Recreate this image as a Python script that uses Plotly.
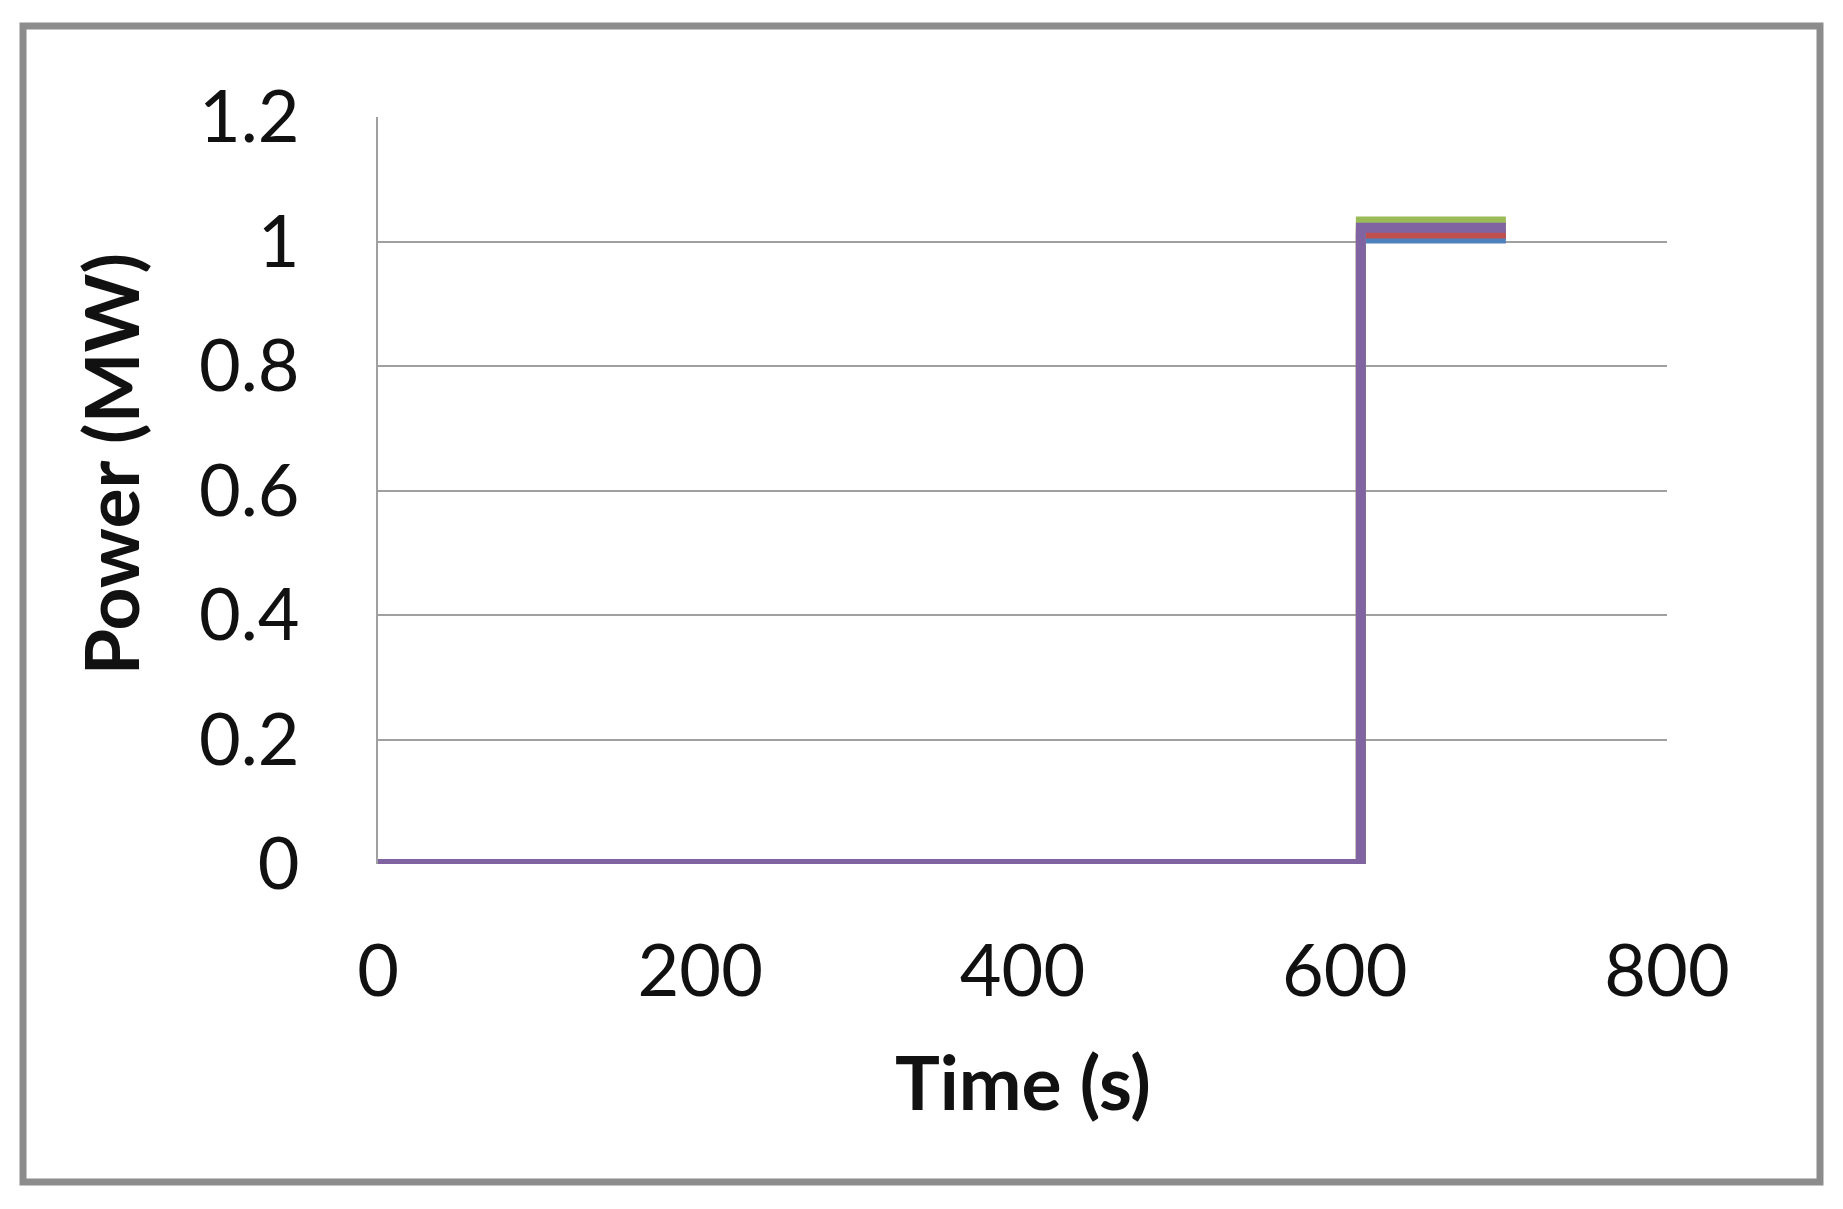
import plotly.graph_objects as go

time_s = [0, 610, 610, 700]
series_names = ["Series 1", "Series 2", "Series 3", "Series 4"]
blue_vals = [0, 0, 1.005, 1.005]
red_vals = [0, 0, 1.013, 1.013]
green_vals = [0, 0, 1.032, 1.032]
purple_vals = [0, 0, 1.022, 1.022]
colors = ["#4F81BD", "#C0504D", "#9BBB59", "#8064A2"]
x_ticks = [0, 200, 400, 600, 800]
y_ticks = [0, 0.2, 0.4, 0.6, 0.8, 1, 1.2]
y_tick_text = ["0", "0.2", "0.4", "0.6", "0.8", "1", "1.2"]

fig = go.Figure()
for name, vals, col in zip(series_names, [blue_vals, red_vals, green_vals, purple_vals], colors):
    fig.add_trace(go.Scatter(x=time_s, y=vals, mode="lines", name=name,
                             line=dict(color=col, width=10), showlegend=False))

font_family = "Lato, 'Open Sans', sans-serif"
fig.update_layout(
    width=1835, height=1201,
    margin=dict(l=370, r=176, t=109, b=345, autoexpand=False),
    paper_bgcolor="white", plot_bgcolor="white",
    font=dict(family=font_family, color="#111111"),
    xaxis=dict(range=[0, 800], tickvals=x_ticks, showgrid=False, zeroline=False,
               showline=False, ticks="", tickfont=dict(size=72, family=font_family, color="#111"),
               ticklabelstandoff=59),
    yaxis=dict(range=[0, 1.2], tickvals=y_ticks, ticktext=y_tick_text, showgrid=True,
               gridcolor="#A0A0A0", gridwidth=2, zeroline=False, showline=True,
               linecolor="#A0A0A0", linewidth=2, ticks="",
               tickfont=dict(size=72, family=font_family, color="#111"),
               ticklabelstandoff=62),
    shapes=[dict(type="rect", xref="paper", yref="paper", x0=-0.2754, x1=1.1187,
                 y0=-0.4257, y1=1.1218, line=dict(color="#8C8C8C", width=7), layer="below")],
    annotations=[
        dict(text="<b>Time (s)</b>", xref="paper", yref="paper", x=0.5, y=-0.29,
             showarrow=False, font=dict(size=75, family=font_family, color="#111"),
             xanchor="center", yanchor="middle"),
        dict(text="<b>Power (MW)</b>", xref="paper", yref="paper", x=-0.208, y=0.535,
             showarrow=False, textangle=-90, font=dict(size=75, family=font_family, color="#111"),
             xanchor="center", yanchor="middle"),
    ],
)
fig.write_html("out.html")
